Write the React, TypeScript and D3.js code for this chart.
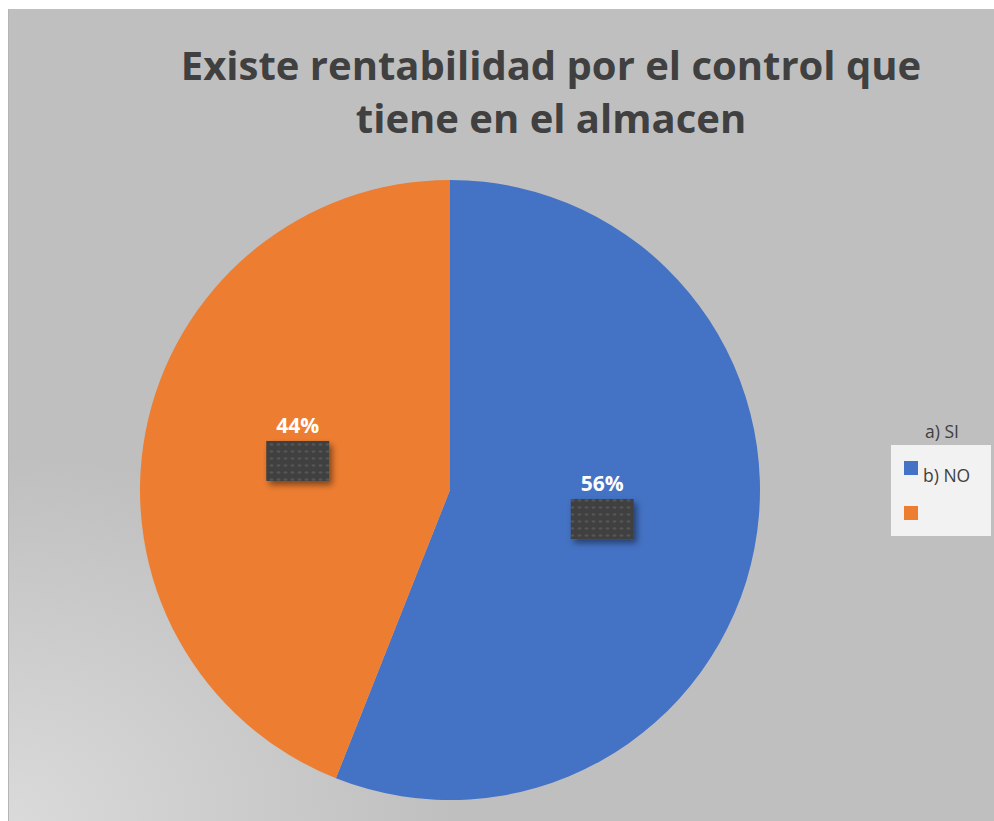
import React from 'react';
import * as d3 from 'd3';

// chart data
const categories = ['b) NO', 'a) SI'];
const values = [56, 44];
const colors = ['#4472c4', '#ed7d31'];
const legendNames = ['a) SI', 'b) NO', ''];
const titleLines = ['Existe rentabilidad por el control que', 'tiene en el almacen'];

const W = 994;
const H = 821;
const cx = 450;
const cy = 490;
const r = 310;
const font = "'Open Sans', 'Noto Sans', sans-serif";

const App: React.FC = () => {
  const pie = d3.pie<number>().sort(null).value(d => d);
  const arcs = pie(values);
  const arc = d3.arc<d3.PieArcDatum<number>>().innerRadius(0).outerRadius(r);
  const total = d3.sum(values);

  return (
    <svg width={W} height={H} style={{ position: 'absolute', left: 0, top: 0 }}>
      <defs>
        <radialGradient id="bg" cx="0" cy="1" r="0.45" gradientUnits="objectBoundingBox">
          <stop offset="0" stopColor="#dadada" />
          <stop offset="1" stopColor="#bfbfbf" />
        </radialGradient>
        <pattern id="dots" width="7" height="7" patternUnits="userSpaceOnUse">
          <rect width="7" height="7" fill="#3f3f3f" />
          <ellipse cx="3.5" cy="3.5" rx="2" ry="1.3" fill="#555" />
        </pattern>
        <filter id="shadow" x="-30%" y="-30%" width="170%" height="180%">
          <feDropShadow dx="3" dy="4" stdDeviation="3" floodColor="#000" floodOpacity="0.45" />
        </filter>
      </defs>
      <rect x={0} y={0} width={W} height={H} fill="#fff" />
      <rect x={8} y={9} width={W - 8} height={H - 9} fill="url(#bg)" />
      <line x1={8.5} y1={9} x2={8.5} y2={H} stroke="#b5b5b5" strokeWidth={1} />

      <text textAnchor="middle" fill="#404040" fontFamily={font} fontWeight="bold" fontSize={40}>
        {titleLines.map((t, i) => (
          <tspan key={i} x={551} y={80 + i * 53}>{t}</tspan>
        ))}
      </text>

      <g transform={`translate(${cx},${cy})`}>
        {arcs.map((a, i) => (
          <path key={categories[i]} d={arc(a) || ''} fill={colors[i]} />
        ))}
        {arcs.map((a, i) => {
          const [x, y] = arc.centroid(a);
          return (
            <g key={'l' + i}>
              <rect x={x - 31.5} y={y - 20} width={63} height={40} fill="url(#dots)" filter="url(#shadow)" />
              <text x={x} y={y - 28} textAnchor="middle" fill="#fff" fontFamily={font} fontWeight="bold" fontSize={21}>
                {d3.format('.0%')(values[i] / total)}
              </text>
            </g>
          );
        })}
      </g>

      <text x={942} y={438} textAnchor="middle" fill="#404040" fontFamily={font} fontSize={17.5}>{legendNames[0]}</text>
      <rect x={891} y={445} width={100} height={91} fill="#f2f2f2" />
      {colors.map((c, i) => (
        <g key={'lg' + i}>
          <rect x={904} y={461 + i * 45} width={14} height={14} fill={c} />
          <text x={923} y={482 + i * 45} fill="#404040" fontFamily={font} fontSize={17.5}>{legendNames[i + 1]}</text>
        </g>
      ))}
    </svg>
  );
};

export default App;
